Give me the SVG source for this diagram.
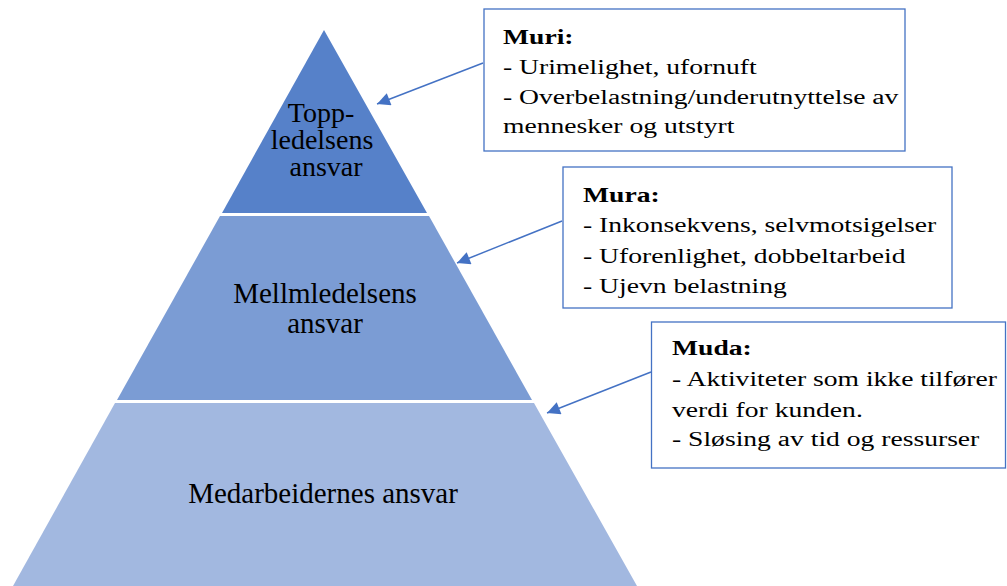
<svg xmlns="http://www.w3.org/2000/svg" width="1007" height="586" viewBox="0 0 1007 586">
<defs>
<style>
text{font-family:'Liberation Serif','Times New Roman',Times,'DejaVu Serif',serif}
.lvl{font-size:29px;fill:#000;text-anchor:middle}
.lvt{font-size:28px}
.bt{font-size:20px;fill:#000}
.b{font-weight:bold}
.box{fill:#fff;stroke:#4472C4;stroke-width:1.3}
.con{stroke:#4472C4;stroke-width:1.5;fill:none;marker-end:url(#ah)}
</style>
<marker id="ah" viewBox="0 0 10 10" refX="10" refY="5" markerWidth="16" markerHeight="13" markerUnits="userSpaceOnUse" orient="auto">
<path d="M0,0 L10,5 L0,10 z" fill="#4472C4"/>
</marker>
</defs>
<rect width="1007" height="586" fill="#fff"/>
<g id="top-level" font-family="Liberation Serif, serif">
<polygon points="324,30 222,213 427,213" fill="#5681C9"/>
<text class="lvl lvt" x="321" y="122">Topp-</text>
<text class="lvl lvt" x="322" y="149">ledelsens</text>
<text class="lvl lvt" x="326" y="176">ansvar</text>
</g>
<g id="middle-level" font-family="Liberation Serif, serif">
<polygon points="220,216 429,216 532,400 117,400" fill="#7B9CD4"/>
<text class="lvl" x="325" y="303">Mellmledelsens</text>
<text class="lvl" x="325" y="333">ansvar</text>
</g>
<g id="bottom-level" font-family="Liberation Serif, serif">
<polygon points="115,403 534,403 637,586 13,586" fill="#A2B8E0"/>
<text class="lvl" x="323" y="503">Medarbeidernes ansvar</text>
</g>
<g id="muri" font-family="Liberation Serif, serif">
<rect class="box" x="484" y="9" width="421" height="142"/>
<g transform="matrix(1.38,0,0,1,503,0)">
<text class="bt b" x="0" y="44">Muri:</text>
<text class="bt" x="0" y="74">- Urimelighet, ufornuft</text>
<text class="bt" x="0" y="104">- Overbelastning/underutnyttelse av</text>
<text class="bt" x="0" y="133">mennesker og utstyrt</text>
</g>
</g>
<g id="mura" font-family="Liberation Serif, serif">
<rect class="box" x="563" y="167" width="389" height="141"/>
<g transform="matrix(1.38,0,0,1,583,0)">
<text class="bt b" x="0" y="202">Mura:</text>
<text class="bt" x="0" y="232">- Inkonsekvens, selvmotsigelser</text>
<text class="bt" x="0" y="263">- Uforenlighet, dobbeltarbeid</text>
<text class="bt" x="0" y="293">- Ujevn belastning</text>
</g>
</g>
<g id="muda" font-family="Liberation Serif, serif">
<rect class="box" x="651.5" y="322" width="354" height="146"/>
<g transform="matrix(1.38,0,0,1,672,0)">
<text class="bt b" x="0" y="355">Muda:</text>
<text class="bt" x="0" y="386">- Aktiviteter som ikke tilfører</text>
<text class="bt" x="0" y="417">verdi for kunden.</text>
<text class="bt" x="0" y="446">- Sløsing av tid og ressurser</text>
</g>
</g>
<g id="connectors">
<line class="con" x1="483" y1="63" x2="377" y2="104"/>
<line class="con" x1="562" y1="221" x2="457" y2="263"/>
<line class="con" x1="651" y1="372" x2="547" y2="413"/>
</g>
</svg>
